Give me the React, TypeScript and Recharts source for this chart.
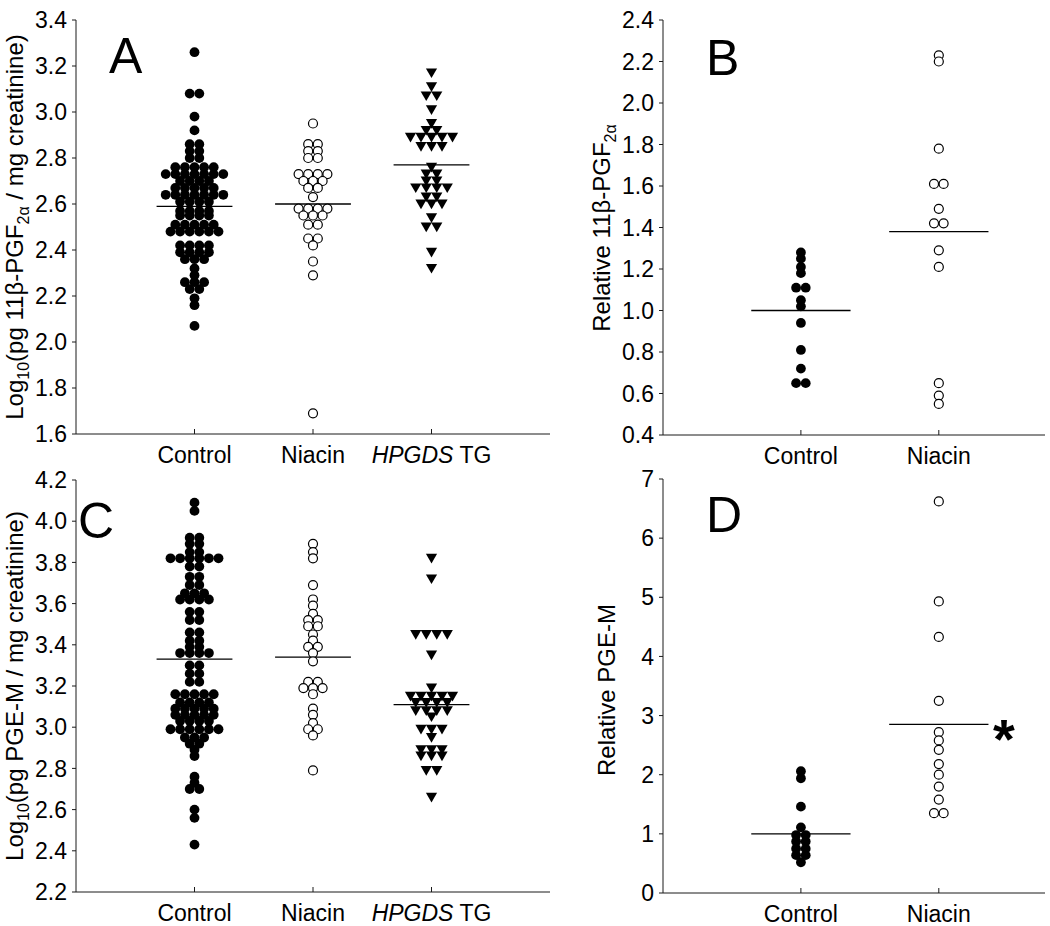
import React from 'react'
import { ScatterChart, Scatter, XAxis, YAxis, ReferenceLine } from 'recharts'

// category labels
const catsABC = ['Control', 'Niacin', 'HPGDS TG']
const catsBD = ['Control', 'Niacin']

// A: log10(pg 11b-PGF2a / mg creatinine)
const ctrlA = [3.26, 3.08, 3.08, 2.98, 2.92, 2.86, 2.86, 2.83, 2.83, 2.80, 2.80,
  2.76, 2.76, 2.76, 2.76, 2.76, 2.73, 2.73, 2.73, 2.73, 2.73, 2.73, 2.73,
  2.70, 2.70, 2.70, 2.70, 2.67, 2.67, 2.67, 2.67, 2.67,
  2.64, 2.64, 2.64, 2.64, 2.64, 2.64, 2.64, 2.61, 2.61, 2.61, 2.61,
  2.57, 2.57, 2.57, 2.57, 2.55, 2.55, 2.55, 2.55, 2.51, 2.51, 2.51, 2.51, 2.51,
  2.48, 2.48, 2.48, 2.48, 2.48, 2.48, 2.42, 2.42, 2.42, 2.42, 2.39, 2.39, 2.39, 2.39,
  2.36, 2.36, 2.36, 2.32, 2.29, 2.26, 2.26, 2.26, 2.23, 2.23, 2.19, 2.16, 2.07]
const niacinA = [2.95, 2.86, 2.86, 2.83, 2.83, 2.80, 2.80, 2.73, 2.73, 2.73, 2.73,
  2.70, 2.70, 2.70, 2.67, 2.67, 2.63, 2.58, 2.58, 2.58, 2.58, 2.55, 2.55, 2.55,
  2.51, 2.51, 2.45, 2.45, 2.42, 2.35, 2.29, 1.69]
const tgA = [3.17, 3.11, 3.07, 3.07, 3.01, 2.95, 2.92, 2.92, 2.89, 2.89, 2.89, 2.89, 2.89,
  2.85, 2.85, 2.85, 2.76, 2.73, 2.73, 2.70, 2.70, 2.67, 2.67, 2.67, 2.67,
  2.63, 2.63, 2.60, 2.60, 2.60, 2.54, 2.50, 2.50, 2.39, 2.32]
const linesA = [2.59, 2.60, 2.77]
const ticksA = [1.6, 1.8, 2.0, 2.2, 2.4, 2.6, 2.8, 3.0, 3.2, 3.4]

// B: relative 11b-PGF2a
const ctrlB = [1.28, 1.25, 1.21, 1.18, 1.11, 1.11, 1.05, 1.02, 0.94, 0.81, 0.72, 0.65, 0.65]
const niacinB = [2.23, 2.20, 1.78, 1.61, 1.61, 1.49, 1.42, 1.42, 1.29, 1.21, 0.65, 0.59, 0.55]
const linesB = [1.0, 1.38]
const ticksB = [0.4, 0.6, 0.8, 1.0, 1.2, 1.4, 1.6, 1.8, 2.0, 2.2, 2.4]

// C: log10(pg PGE-M / mg creatinine)
const ctrlC = [4.09, 4.05, 3.92, 3.92, 3.89, 3.89, 3.85, 3.85, 3.82, 3.82, 3.82, 3.82, 3.82, 3.82,
  3.78, 3.78, 3.73, 3.73, 3.69, 3.69, 3.65, 3.65, 3.65, 3.62, 3.62, 3.62, 3.62,
  3.56, 3.56, 3.52, 3.52, 3.46, 3.46, 3.42, 3.42, 3.39, 3.39, 3.36, 3.36, 3.36, 3.36,
  3.30, 3.30, 3.26, 3.26, 3.22, 3.22, 3.16, 3.16, 3.16, 3.16, 3.16, 3.12, 3.12, 3.12, 3.12,
  3.09, 3.09, 3.09, 3.09, 3.09, 3.06, 3.06, 3.06, 3.06, 3.06, 3.03, 3.03, 3.03, 3.03,
  2.99, 2.99, 2.99, 2.99, 2.99, 2.99, 2.95, 2.95, 2.95, 2.92, 2.92, 2.89, 2.86,
  2.76, 2.73, 2.70, 2.70, 2.60, 2.56, 2.43]
const niacinC = [3.89, 3.85, 3.82, 3.69, 3.62, 3.59, 3.55, 3.52, 3.52, 3.49, 3.49, 3.45, 3.42,
  3.39, 3.39, 3.36, 3.32, 3.22, 3.22, 3.19, 3.19, 3.19, 3.16, 3.09, 3.06, 3.02, 2.99, 2.99, 2.96, 2.79]
const tgC = [3.82, 3.72, 3.45, 3.45, 3.45, 3.45, 3.35, 3.19, 3.15, 3.15, 3.15, 3.15, 3.15,
  3.12, 3.12, 3.12, 3.12, 3.08, 3.08, 3.08, 3.08, 3.05, 2.99, 2.99, 2.99, 2.95,
  2.89, 2.89, 2.89, 2.86, 2.86, 2.86, 2.79, 2.79, 2.66]
const linesC = [3.33, 3.34, 3.11]
const ticksC = [2.2, 2.4, 2.6, 2.8, 3.0, 3.2, 3.4, 3.6, 3.8, 4.0, 4.2]

// D: relative PGE-M
const ctrlD = [2.06, 1.94, 1.46, 1.11, 0.98, 0.98, 0.87, 0.87, 0.75, 0.75, 0.64, 0.64, 0.52]
const niacinD = [6.62, 4.93, 4.33, 3.25, 2.72, 2.58, 2.42, 2.18, 2.0, 1.8, 1.58, 1.35, 1.35]
const linesD = [1.0, 2.85]
const ticksD = [0, 1, 2, 3, 4, 5, 6, 7]

const AXIS = '#1a1a1a'
const FONT = '"Liberation Sans", Arial, sans-serif'

// simple beeswarm: equal values share a row, spread sideways around the category
function swarm(vals: number[], cat: number, pxPerUnit: number, gap: number) {
  const rows = new Map<number, number>()
  vals.forEach(v => rows.set(v, (rows.get(v) || 0) + 1))
  const out: { x: number; y: number }[] = []
  rows.forEach((n, v) => {
    for (let i = 0; i < n; i++) out.push({ x: cat + ((i - (n - 1) / 2) * gap) / pxPerUnit, y: v })
  })
  return out
}

const dot = (p: any) => <circle cx={p.cx} cy={p.cy} r={4.9} fill="#000" />
const ring = (p: any) => <circle cx={p.cx} cy={p.cy} r={4.5} fill="#fff" stroke="#000" strokeWidth={1.2} />
const tri = (p: any) => (
  <path d={`M${p.cx - 5.6},${p.cy - 4.5} L${p.cx + 5.6},${p.cy - 4.5} L${p.cx},${p.cy + 5.2} Z`} fill="#000" />
)

function CatTick(props: any) {
  const { x, y, payload, labels } = props
  const lab: string = labels[Math.round(payload.value) - 1] ?? ''
  return (
    <g>
      <line x1={x} x2={x} y1={y} y2={y - 5} stroke={AXIS} />
      <text x={x} y={y + 29} textAnchor="middle" fontSize={23} fill="#000">
        {lab.startsWith('HPGDS') ? <><tspan fontStyle="italic">HPGDS</tspan>{' TG'}</> : lab}
      </text>
    </g>
  )
}

function YTitle({ tx, ty, parts }: any) {
  let sub = false
  return (
    <text transform={`translate(${tx},${ty}) rotate(-90)`} textAnchor="middle" fontSize={24} fill="#000">
      {parts.map((s: string, i: number) => {
        const isSub = i % 2 === 1
        const dy = isSub ? 6 : sub ? -6 : 0
        sub = isSub
        return <tspan key={i} dy={dy} fontSize={isSub ? 16 : 24}>{s}</tspan>
      })}
    </text>
  )
}

type PanelProps = {
  left: number; top: number; width: number; height: number; mtop: number; xh: number; yw: number
  xmax: number; ppu: number; half: number; cats: string[]; groups: number[][]; shapes: any[]
  lines: number[]; ticks: number[]; dec: number; title: string[]; tx: number; ty: number
}

function Panel(p: PanelProps) {
  return (
    <div style={{ position: 'absolute', left: p.left, top: p.top }}>
      <ScatterChart width={p.width} height={p.height} margin={{ top: p.mtop, right: 0, bottom: 0, left: 0 }}>
        <XAxis type="number" dataKey="x" domain={[0, p.xmax]} ticks={p.cats.map((_, i) => i + 1)}
          height={p.xh} tickSize={0} tickMargin={0} tickLine={false} stroke={AXIS} allowDataOverflow
          tick={<CatTick labels={p.cats} />} />
        <YAxis type="number" dataKey="y" domain={[p.ticks[0], p.ticks[p.ticks.length - 1]]} ticks={p.ticks}
          width={p.yw} tickSize={4} tickMargin={5} stroke={AXIS} interval={0}
          tickFormatter={(v: number) => v.toFixed(p.dec)} tick={{ fontSize: 23, fill: '#000' }}
          label={<YTitle tx={p.tx} ty={p.ty} parts={p.title} />} />
        {p.lines.map((m, i) => (
          <ReferenceLine key={'l' + i} segment={[{ x: i + 1 - p.half, y: m }, { x: i + 1 + p.half, y: m }]}
            stroke="#000" strokeWidth={1.3} />
        ))}
        {p.groups.map((g, i) => (
          <Scatter key={'s' + i} data={swarm(g, i + 1, p.ppu, i === 2 ? 10.5 : 9.6)} shape={p.shapes[i]}
            isAnimationActive={false} />
        ))}
      </ScatterChart>
    </div>
  )
}

export default function App() {
  return (
    <div style={{ position: 'absolute', left: 0, top: 0, width: 1050, height: 926, background: '#fff', fontFamily: FONT }}>
      <Panel left={0} top={0} width={550} height={480} mtop={20} xh={46} yw={76} xmax={4} ppu={118.5} half={0.32}
        cats={catsABC} groups={[ctrlA, niacinA, tgA]} shapes={[dot, ring, tri]} lines={linesA} ticks={ticksA} dec={1}
        title={['Log', '10', '(pg 11β-PGF', '2α', ' / mg creatinine)']} tx={23} ty={227} />
      <Panel left={580} top={0} width={465} height={480} mtop={20} xh={45} yw={83} xmax={2.77} ppu={138} half={0.36}
        cats={catsBD} groups={[ctrlB, niacinB]} shapes={[dot, ring]} lines={linesB} ticks={ticksB} dec={1}
        title={['Relative 11β-PGF', '2α']} tx={30} ty={228} />
      <Panel left={0} top={460} width={550} height={466} mtop={20} xh={34} yw={76} xmax={4} ppu={118.5} half={0.32}
        cats={catsABC} groups={[ctrlC, niacinC, tgC]} shapes={[dot, ring, tri]} lines={linesC} ticks={ticksC} dec={1}
        title={['Log', '10', '(pg PGE-M / mg creatinine)']} tx={23} ty={226} />
      <Panel left={580} top={460} width={465} height={466} mtop={19} xh={33} yw={83} xmax={2.77} ppu={138} half={0.36}
        cats={catsBD} groups={[ctrlD, niacinD]} shapes={[dot, ring]} lines={linesD} ticks={ticksD} dec={0}
        title={['Relative PGE-M']} tx={35} ty={230} />
      <svg width={1050} height={926} style={{ position: 'absolute', left: 0, top: 0, pointerEvents: 'none' }}>
        <g fontSize={50} fill="#000">
          <text x={109} y={73}>A</text>
          <text x={706} y={75}>B</text>
          <text x={78} y={538}>C</text>
          <text x={706} y={532}>D</text>
        </g>
        <text x={993} y={758} fontSize={56} fontWeight="bold" fill="#000">*</text>
      </svg>
    </div>
  )
}
